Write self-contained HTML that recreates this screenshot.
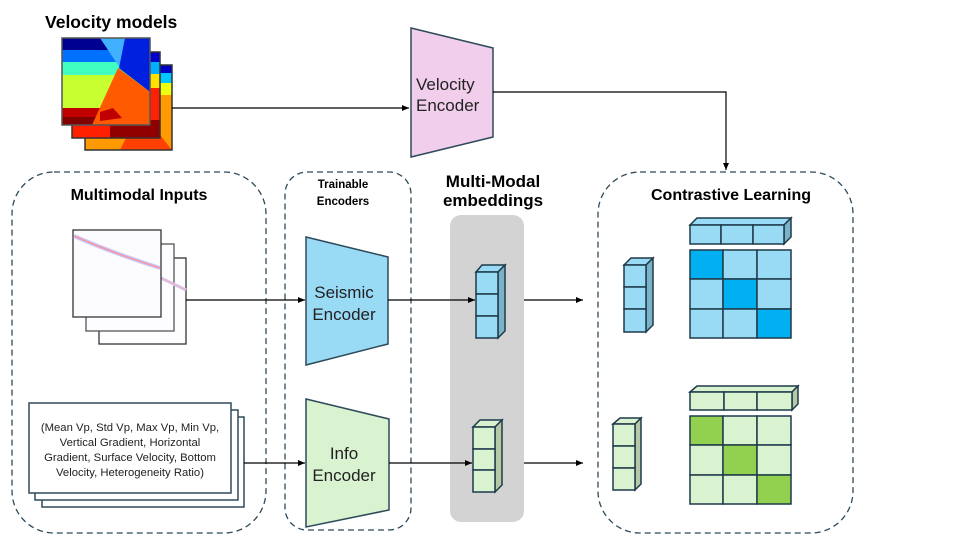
<!DOCTYPE html>
<html><head><meta charset="utf-8"><style>
html,body{margin:0;padding:0;background:#fff;}
svg{display:block;font-family:"Liberation Sans",sans-serif;}
</style></head><body>
<svg width="974" height="548" viewBox="0 0 974 548" xmlns="http://www.w3.org/2000/svg">
<defs>
<marker id="ar" markerWidth="8" markerHeight="8" refX="7" refY="4" orient="auto" markerUnits="userSpaceOnUse"><path d="M0,1 L7,4 L0,7 z" fill="#000"/></marker>
<clipPath id="c1"><rect x="85" y="65" width="87" height="85"/></clipPath>
<clipPath id="c2"><rect x="72" y="52" width="88" height="86"/></clipPath>
<clipPath id="c3"><rect x="62" y="38" width="88" height="87"/></clipPath>
</defs>
<text x="45" y="28" font-size="17.5" font-weight="bold">Velocity models</text>
<g clip-path="url(#c1)">
<rect x="85" y="65" width="87" height="85" fill="#ff9a00"/>
<rect x="85" y="65" width="87" height="8" fill="#0000c8"/>
<rect x="85" y="73" width="87" height="10" fill="#00c8ff"/>
<rect x="85" y="83" width="87" height="12" fill="#eeff10"/>
<polygon points="120,150 140,110 172,150" fill="#ff4000"/>
</g>
<rect x="85" y="65" width="87" height="85" fill="none" stroke="#333" stroke-width="1.5"/>
<g clip-path="url(#c2)">
<rect x="72" y="52" width="88" height="86" fill="#ff2000"/>
<rect x="72" y="52" width="88" height="10" fill="#0000d0"/>
<rect x="72" y="62" width="88" height="12" fill="#00b0ff"/>
<rect x="72" y="74" width="88" height="14" fill="#ffe000"/>
<rect x="110" y="120" width="50" height="18" fill="#900000"/>
</g>
<rect x="72" y="52" width="88" height="86" fill="none" stroke="#333" stroke-width="1.5"/>
<g clip-path="url(#c3)">
<rect x="62" y="38" width="88" height="87" fill="#c8ff30"/>
<rect x="62" y="38" width="88" height="12" fill="#000090"/>
<rect x="62" y="50" width="88" height="12" fill="#0070ff"/>
<rect x="62" y="62" width="88" height="13" fill="#40ffc0"/>
<rect x="62" y="108" width="88" height="9" fill="#c00000"/>
<rect x="62" y="117" width="88" height="8" fill="#800000"/>
<polygon points="100,38 130,38 120,68" fill="#40b0ff"/>
<polygon points="125,38 150,38 150,92 119,68" fill="#0020e0"/>
<polygon points="118,68 150,92 150,125 92,125" fill="#ff5a00"/>
<polygon points="100,112 113,108 122,118 100,121" fill="#c00000"/>
</g>
<rect x="62" y="38" width="88" height="87" fill="none" stroke="#555" stroke-width="1.5"/>
<line x1="172" y1="108" x2="409" y2="108" stroke="#000" stroke-width="1.2" marker-end="url(#ar)"/>
<polygon points="411,28 493,48 493,137 411,157" fill="#f1cfec" stroke="#2e4a5a" stroke-width="1.5"/>
<text x="416" y="90" font-size="17" fill="#222">Velocity</text>
<text x="416" y="111" font-size="17" fill="#222">Encoder</text>
<polyline points="493,92 726,92 726,170" fill="none" stroke="#000" stroke-width="1.2" marker-end="url(#ar)"/>
<rect x="12" y="172" width="254" height="361" rx="42" fill="none" stroke="#2e4a5a" stroke-width="1.3" stroke-dasharray="6,4"/>
<rect x="285" y="172" width="126" height="358" rx="22" fill="none" stroke="#2e4a5a" stroke-width="1.3" stroke-dasharray="6,4"/>
<rect x="598" y="172" width="255" height="361" rx="42" fill="none" stroke="#2e4a5a" stroke-width="1.3" stroke-dasharray="6,4"/>
<rect x="450" y="215" width="74" height="307" rx="11" fill="#d3d3d3"/>
<text x="139" y="200" font-size="16" font-weight="bold" text-anchor="middle">Multimodal Inputs</text>
<text x="343" y="188" font-size="11.5" font-weight="bold" text-anchor="middle">Trainable</text>
<text x="343" y="205" font-size="11.5" font-weight="bold" text-anchor="middle">Encoders</text>
<text x="493" y="187" font-size="17" font-weight="bold" text-anchor="middle">Multi-Modal</text>
<text x="493" y="206" font-size="17" font-weight="bold" text-anchor="middle">embeddings</text>
<text x="731" y="200" font-size="16" font-weight="bold" text-anchor="middle">Contrastive Learning</text>
<rect x="99" y="258" width="87" height="86" fill="#fdfdff" stroke="#333" stroke-width="1.3"/>
<rect x="86" y="244" width="88" height="87" fill="#fdfdff" stroke="#555" stroke-width="1.3"/>
<path d="M161,278 L186,290" stroke="#c8c8ff" stroke-width="3" fill="none"/>
<path d="M161,278 L186,290" stroke="#ffb0b0" stroke-width="1.2" fill="none"/>
<rect x="73" y="230" width="88" height="87" fill="#fcfcff" stroke="#333" stroke-width="1.3"/>
<path d="M74,236 Q110,252 160,268" stroke="#c8c8ff" stroke-width="4" fill="none"/>
<path d="M74,236 Q110,252 160,268" stroke="#ff9090" stroke-width="1.3" fill="none"/>
<line x1="186" y1="300" x2="305" y2="300" stroke="#000" stroke-width="1.2" marker-end="url(#ar)"/>
<polygon points="306,237 388,257 388,344 306,365" fill="#99daf5" stroke="#2e4a5a" stroke-width="1.5"/>
<text x="344" y="298" font-size="17" fill="#222" text-anchor="middle">Seismic</text>
<text x="344" y="320" font-size="17" fill="#222" text-anchor="middle">Encoder</text>
<line x1="388" y1="300" x2="475" y2="300" stroke="#000" stroke-width="1.2" marker-end="url(#ar)"/>
<g stroke="#1e3a4a" stroke-width="1.5">
<polygon points="476,272 482,265 505,265 498,272" fill="#99daf5"/>
<polygon points="498,272 505,265 505,331 498,338" fill="#7ab3c8"/>
<rect x="476" y="272" width="22" height="22" fill="#99daf5"/>
<rect x="476" y="294" width="22" height="22" fill="#99daf5"/>
<rect x="476" y="316" width="22" height="22" fill="#99daf5"/>
</g>
<line x1="524" y1="300" x2="583" y2="300" stroke="#000" stroke-width="1.2" marker-end="url(#ar)"/>
<rect x="42" y="417" width="202" height="90" fill="#fff" stroke="#2e4a5a" stroke-width="1.5"/>
<rect x="35" y="410" width="203" height="90" fill="#fff" stroke="#2e4a5a" stroke-width="1.5"/>
<rect x="29" y="403" width="202" height="90" fill="#fff" stroke="#2e4a5a" stroke-width="1.5"/>
<g font-size="11.3" fill="#222" text-anchor="middle">
<text x="130" y="431">(Mean Vp, Std Vp, Max Vp, Min Vp,</text>
<text x="130" y="446">Vertical Gradient, Horizontal</text>
<text x="130" y="461">Gradient, Surface Velocity, Bottom</text>
<text x="130" y="476">Velocity, Heterogeneity Ratio)</text>
</g>
<line x1="244" y1="463" x2="305" y2="463" stroke="#000" stroke-width="1.2" marker-end="url(#ar)"/>
<polygon points="306,399 389,419 389,510 306,527" fill="#d9f2d0" stroke="#2e4a5a" stroke-width="1.5"/>
<text x="344" y="459" font-size="17" fill="#222" text-anchor="middle">Info</text>
<text x="344" y="481" font-size="17" fill="#222" text-anchor="middle">Encoder</text>
<line x1="389" y1="463" x2="472" y2="463" stroke="#000" stroke-width="1.2" marker-end="url(#ar)"/>
<g stroke="#1e3a4a" stroke-width="1.5">
<polygon points="473,427 480,420 502,420 495,427" fill="#d9f2d0"/>
<polygon points="495,427 502,420 502,485 495,492" fill="#b5c9a8"/>
<rect x="473" y="427" width="22" height="22" fill="#d9f2d0"/>
<rect x="473" y="449" width="22" height="21" fill="#d9f2d0"/>
<rect x="473" y="470" width="22" height="22" fill="#d9f2d0"/>
</g>
<line x1="524" y1="463" x2="583" y2="463" stroke="#000" stroke-width="1.2" marker-end="url(#ar)"/>
<g stroke="#1e3a4a" stroke-width="1.5">
<polygon points="624,265 631,258 653,258 646,265" fill="#99daf5"/>
<polygon points="646,265 653,258 653,325 646,332" fill="#7ab3c8"/>
<rect x="624" y="265" width="22" height="22" fill="#99daf5"/>
<rect x="624" y="287" width="22" height="22" fill="#99daf5"/>
<rect x="624" y="309" width="22" height="23" fill="#99daf5"/>
<polygon points="690,225 697,218 791,218 784,225" fill="#99daf5"/>
<polygon points="784,225 791,218 791,237 784,244" fill="#7ab3c8"/>
<rect x="690" y="225" width="31" height="19" fill="#99daf5"/>
<rect x="721" y="225" width="32" height="19" fill="#99daf5"/>
<rect x="753" y="225" width="31" height="19" fill="#99daf5"/>
<rect x="690" y="250" width="33" height="29" fill="#00b0f0"/>
<rect x="723" y="250" width="34" height="29" fill="#99daf5"/>
<rect x="757" y="250" width="34" height="29" fill="#99daf5"/>
<rect x="690" y="279" width="33" height="30" fill="#99daf5"/>
<rect x="723" y="279" width="34" height="30" fill="#00b0f0"/>
<rect x="757" y="279" width="34" height="30" fill="#99daf5"/>
<rect x="690" y="309" width="33" height="29" fill="#99daf5"/>
<rect x="723" y="309" width="34" height="29" fill="#99daf5"/>
<rect x="757" y="309" width="34" height="29" fill="#00b0f0"/>
</g>
<g stroke="#1e3a4a" stroke-width="1.5">
<polygon points="613,424 620,418 641,418 635,424" fill="#d9f2d0"/>
<polygon points="635,424 641,418 641,484 635,490" fill="#b5c9a8"/>
<rect x="613" y="424" width="22" height="22" fill="#d9f2d0"/>
<rect x="613" y="446" width="22" height="22" fill="#d9f2d0"/>
<rect x="613" y="468" width="22" height="22" fill="#d9f2d0"/>
<polygon points="690,392 697,386 798,386 792,392" fill="#d9f2d0"/>
<polygon points="792,392 798,386 798,404 792,410" fill="#b5c9a8"/>
<rect x="690" y="392" width="34" height="18" fill="#d9f2d0"/>
<rect x="724" y="392" width="33" height="18" fill="#d9f2d0"/>
<rect x="757" y="392" width="35" height="18" fill="#d9f2d0"/>
<rect x="690" y="416" width="33" height="29" fill="#92d050"/>
<rect x="723" y="416" width="34" height="29" fill="#d9f2d0"/>
<rect x="757" y="416" width="34" height="29" fill="#d9f2d0"/>
<rect x="690" y="445" width="33" height="30" fill="#d9f2d0"/>
<rect x="723" y="445" width="34" height="30" fill="#92d050"/>
<rect x="757" y="445" width="34" height="30" fill="#d9f2d0"/>
<rect x="690" y="475" width="33" height="29" fill="#d9f2d0"/>
<rect x="723" y="475" width="34" height="29" fill="#d9f2d0"/>
<rect x="757" y="475" width="34" height="29" fill="#92d050"/>
</g>
</svg>
</body></html>
